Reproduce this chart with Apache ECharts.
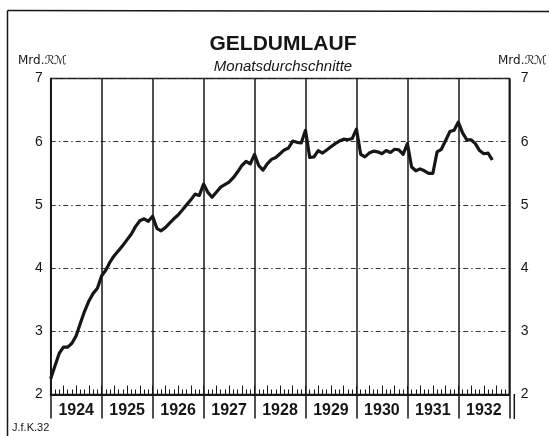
<!DOCTYPE html>
<html>
<head>
<meta charset="utf-8">
<script src="https://cdn.jsdelivr.net/npm/echarts@6/dist/echarts.min.js"></script>
<style>
  html, body { margin: 0; padding: 0; background: #fff; }
  #chart { width: 549px; height: 436px; }
</style>
</head>
<body>
<div id="chart"></div>
<script>
// Geldumlauf, Mrd. RM, monthly points; index 0 sits on the 1924 year line
var years = ['1924', '1925', '1926', '1927', '1928', '1929', '1930', '1931', '1932'];
var startMonth = 0;
var geldumlauf = [
  2.25, 2.45, 2.65, 2.75, 2.75, 2.81, 2.93, 3.13, 3.32, 3.48, 3.60, 3.68,
  3.88, 3.97, 4.10, 4.20, 4.28, 4.36, 4.45, 4.54, 4.66, 4.75, 4.78, 4.74,
  4.82, 4.63, 4.59, 4.64, 4.71, 4.78, 4.84, 4.92, 5.00, 5.08, 5.17, 5.15,
  5.33, 5.20, 5.12, 5.20, 5.28, 5.32, 5.36, 5.43, 5.52, 5.62, 5.69, 5.65,
  5.80, 5.62, 5.55, 5.65, 5.72, 5.75, 5.81, 5.87, 5.90, 6.01, 5.99, 5.98,
  6.18, 5.75, 5.76, 5.86, 5.82, 5.87, 5.92, 5.97, 6.01, 6.04, 6.03, 6.05,
  6.20, 5.80, 5.76, 5.82, 5.85, 5.84, 5.81, 5.86, 5.83, 5.88, 5.87, 5.80,
  5.97, 5.60, 5.54, 5.57, 5.54, 5.50, 5.50, 5.84, 5.88, 6.02, 6.16, 6.18,
  6.31, 6.14, 6.03, 6.03, 5.97, 5.86, 5.81, 5.82, 5.71
];
var yMin = 2, yMax = 7;

var ink = '#161616';
var chart = echarts.init(document.getElementById('chart'));

var points = geldumlauf.map(function (v, i) { return [startMonth + i, v]; });

var option = {
  backgroundColor: '#fff',
  animation: false,
  title: {
    text: 'GELDUMLAUF',
    subtext: 'Monatsdurchschnitte',
    left: 278,
    textAlign: 'center',
    top: 29,
    itemGap: 4,
    textStyle: { fontFamily: 'Liberation Sans', fontSize: 21, fontWeight: 'bold', color: ink },
    subtextStyle: { fontFamily: 'Liberation Sans', fontSize: 15, fontStyle: 'italic', color: ink }
  },
  grid: {
    left: 50.7, right: 39.7, top: 78.5, bottom: 41.5,
    show: true, borderColor: ink, borderWidth: 1.5, backgroundColor: 'transparent'
  },
  xAxis: [{
    // year lines + thick base line
    type: 'value', min: 0, max: 108, interval: 12, position: 'bottom',
    axisLine: { show: true, lineStyle: { color: ink, width: 2 } },
    axisTick: { show: true, length: 24, lineStyle: { color: ink, width: 1.5 } },
    axisLabel: { show: false },
    splitLine: { show: true, lineStyle: { color: ink, width: 1.5 } }
  }, {
    // month / quarter ticks
    type: 'value', min: 0, max: 108, interval: 3, position: 'bottom',
    axisLine: { show: false },
    axisTick: { show: true, inside: true, length: 9, lineStyle: { color: ink, width: 1 } },
    minorTick: { show: true, splitNumber: 3, length: 5, lineStyle: { color: ink, width: 1 } },
    axisLabel: { show: false },
    splitLine: { show: false }
  }, {
    // year labels centred between the lines
    type: 'category', data: years, position: 'bottom', boundaryGap: true,
    axisLine: { show: false },
    axisTick: { show: false },
    axisLabel: { margin: 8, fontFamily: 'Liberation Sans', fontSize: 16, fontWeight: 'bold', color: ink },
    splitLine: { show: false }
  }],
  yAxis: [{
    type: 'value', min: yMin, max: yMax, interval: 1, position: 'left',
    axisLine: { show: false },
    axisTick: { show: false },
    axisLabel: { margin: 8, fontFamily: 'Liberation Sans', fontSize: 14, color: ink },
    splitLine: { show: true, lineStyle: { color: '#333', width: 1.2, type: [5, 3, 1.5, 3] } }
  }, {
    type: 'value', min: yMin, max: yMax, interval: 1, position: 'right', offset: 4.5,
    axisLine: { show: true, lineStyle: { color: ink, width: 1.5 } },
    axisTick: { show: false },
    axisLabel: { margin: 7, fontFamily: 'Liberation Sans', fontSize: 14, color: ink },
    splitLine: { show: false }
  }],
  graphic: [
    { type: 'line', shape: { x1: 7.5, y1: 10.5, x2: 549, y2: 11.5 }, style: { stroke: ink, lineWidth: 1.5 } },
    { type: 'line', shape: { x1: 7.5, y1: 10.5, x2: 7.5, y2: 436 }, style: { stroke: ink, lineWidth: 1.5 } },
    { type: 'line', shape: { x1: 514.3, y1: 394, x2: 514.3, y2: 419 }, style: { stroke: ink, lineWidth: 1.5 } },
    { type: 'text', left: 18, top: 55, style: { text: 'Mrd.ℛℳ', font: '12px "DejaVu Sans"', fill: ink } },
    { type: 'text', left: 498, top: 55, style: { text: 'Mrd.ℛℳ', font: '12px "DejaVu Sans"', fill: ink } },
    { type: 'text', left: 12, top: 422, style: { text: 'J.f.K.32', font: '11px "Liberation Sans Narrow", "Liberation Sans"', fill: ink } }
  ],
  series: [{
    name: 'Geldumlauf',
    type: 'line',
    xAxisIndex: 0,
    yAxisIndex: 0,
    data: points,
    showSymbol: false,
    smooth: false,
    lineStyle: { color: ink, width: 3.2, join: 'round' },
    z: 5
  }]
};

chart.setOption(option);
</script>
</body>
</html>
